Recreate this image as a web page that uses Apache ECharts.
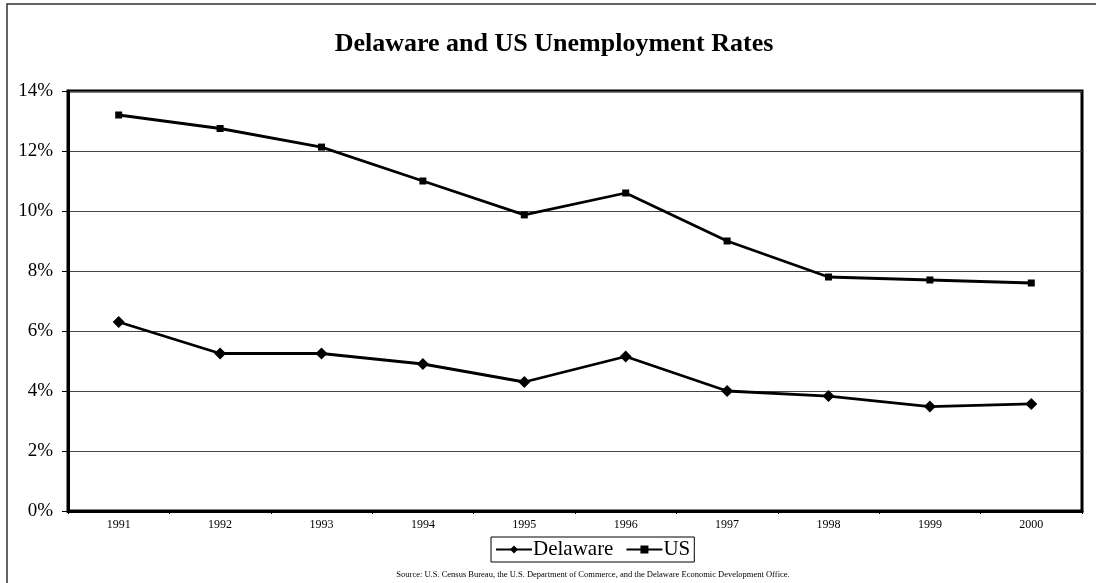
<!DOCTYPE html>
<html>
<head>
<meta charset="utf-8">
<script src="https://cdn.jsdelivr.net/npm/echarts@6/dist/echarts.min.js"></script>
<style>
html,body{margin:0;padding:0;background:#fff;}
#c{width:1096px;height:583px;}
</style>
</head>
<body>
<div id="c"></div>
<script>
const years = ['1991','1992','1993','1994','1995','1996','1997','1998','1999','2000'];
const delaware = [6.3, 5.25, 5.25, 4.9, 4.3, 5.15, 4.0, 3.83, 3.48, 3.57];
const us = [13.2, 12.75, 12.13, 11.0, 9.87, 10.6, 9.0, 7.8, 7.7, 7.6];
const yTicks = [0, 2, 4, 6, 8, 10, 12, 14];

const serif = '"Liberation Serif", "Times New Roman", serif';
const chart = echarts.init(document.getElementById('c'), null, {renderer: 'canvas'});
chart.setOption({
  backgroundColor: '#fff',
  animation: false,
  title: {
    text: 'Delaware and US Unemployment Rates',
    left: 549, top: 26, textAlign: 'center',
    textStyle: {fontFamily: serif, fontWeight: 'bold', fontSize: 26, color: '#000'}
  },
  graphic: [
    {type: 'rect', shape: {x: 7, y: 4, width: 1200, height: 700}, style: {fill: 'none', stroke: '#333', lineWidth: 1.5}, silent: true},
    {type: 'text', x: 593, y: 570, style: {text: 'Source: U.S. Census Bureau, the U.S. Department of Commerce, and the Delaware Economic Development Office.', font: '8.5px ' + serif, fill: '#000', textAlign: 'center'}}
  ],
  legend: {
    data: ['Delaware', 'US'],
    left: 491, top: 537,
    padding: [2, 4],
    itemGap: 12,
    itemWidth: 36, itemHeight: 10,
    borderColor: '#000', borderWidth: 1,
    textStyle: {fontFamily: serif, fontSize: 21, color: '#000', padding: [0,0,0,-4]}
  },
  grid: {left: 68, right: 14, top: 91, bottom: 72, show: true, borderColor: '#000', borderWidth: 3},
  xAxis: {
    type: 'category', data: years, boundaryGap: true,
    axisLine: {lineStyle: {color: '#000', width: 3}},
    axisTick: {show: true, length: 3, lineStyle: {color: '#000', width: 1}},
    axisLabel: {fontFamily: serif, fontSize: 12, color: '#000', margin: 8}
  },
  yAxis: {
    type: 'value', min: 0, max: 14, interval: 2,
    axisLine: {show: true, lineStyle: {color: '#000', width: 3}},
    axisTick: {show: true, length: 6, lineStyle: {color: '#000', width: 1}},
    axisLabel: {fontFamily: serif, fontSize: 19, color: '#000', margin: 15, formatter: v => yTicks.includes(v) ? v + '%' : ''},
    splitLine: {show: true, lineStyle: {color: '#444', width: 1}}
  },
  series: [
    {name: 'Delaware', type: 'line', data: delaware, symbol: 'diamond', symbolSize: 12,
     lineStyle: {color: '#000', width: 2.8}, itemStyle: {color: '#000'}},
    {name: 'US', type: 'line', data: us, symbol: 'rect', symbolSize: 7,
     lineStyle: {color: '#000', width: 2.8}, itemStyle: {color: '#000'}}
  ]
});
</script>
</body>
</html>
